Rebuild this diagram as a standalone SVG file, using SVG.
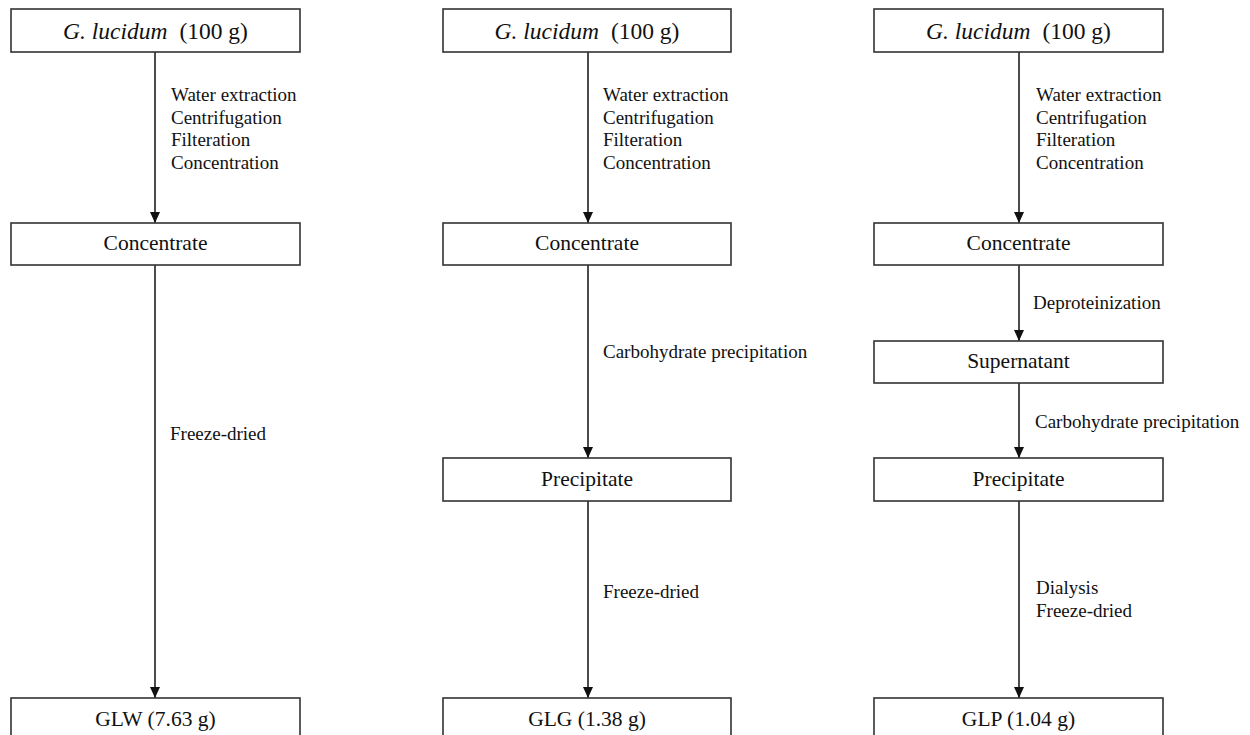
<svg xmlns="http://www.w3.org/2000/svg" width="1250" height="735" viewBox="0 0 1250 735">
<defs>
<marker id="ah" markerWidth="11" markerHeight="10" refX="11" refY="5" orient="auto" markerUnits="userSpaceOnUse" viewBox="0 0 11 10">
<path d="M0,0 L11,5 L0,10 Z" fill="#111"/>
</marker>
</defs>
<style>
.box{fill:#fff;stroke:#333;stroke-width:1.6}
.bt{font-family:"Liberation Serif","Times New Roman",serif;font-size:21.5px;fill:#111;text-anchor:middle}
.tt{font-family:"Liberation Serif","Times New Roman",serif;font-size:23.5px;fill:#111;text-anchor:middle}
.lb{font-family:"Liberation Serif","Times New Roman",serif;font-size:19px;fill:#111}
.ln{stroke:#111;stroke-width:1.5;fill:none;marker-end:url(#ah)}
</style>
<rect width="1250" height="735" fill="#fff"/>
<g id="connectors">
<path class="ln" d="M155,52 V223"/>
<path class="ln" d="M155,265 V698"/>
<path class="ln" d="M588,52 V223"/>
<path class="ln" d="M588,265 V458"/>
<path class="ln" d="M588,501 V698"/>
<path class="ln" d="M1019,52 V223"/>
<path class="ln" d="M1019,265 V341"/>
<path class="ln" d="M1019,383 V458"/>
<path class="ln" d="M1019,501 V698"/>
</g>
<g id="labels">
<text class="lb" x="171" y="101">Water extraction</text>
<text class="lb" x="171" y="123.5">Centrifugation</text>
<text class="lb" x="171" y="146">Filteration</text>
<text class="lb" x="171" y="168.5">Concentration</text>
<text class="lb" x="170" y="440">Freeze-dried</text>
<text class="lb" x="603" y="101">Water extraction</text>
<text class="lb" x="603" y="123.5">Centrifugation</text>
<text class="lb" x="603" y="146">Filteration</text>
<text class="lb" x="603" y="168.5">Concentration</text>
<text class="lb" x="603" y="358">Carbohydrate precipitation</text>
<text class="lb" x="603" y="598">Freeze-dried</text>
<text class="lb" x="1036" y="101">Water extraction</text>
<text class="lb" x="1036" y="123.5">Centrifugation</text>
<text class="lb" x="1036" y="146">Filteration</text>
<text class="lb" x="1036" y="168.5">Concentration</text>
<text class="lb" x="1033" y="309">Deproteinization</text>
<text class="lb" x="1035" y="428">Carbohydrate precipitation</text>
<text class="lb" x="1036" y="594">Dialysis</text>
<text class="lb" x="1036" y="617">Freeze-dried</text>
</g>
<g id="n1a"><rect class="box" x="11" y="9" width="289" height="43"/><text class="tt" x="155.5" y="39"><tspan font-style="italic">G. lucidum</tspan><tspan dx="6"> (100 g)</tspan></text></g>
<g id="n1b"><rect class="box" x="11" y="223" width="289" height="42"/><text class="bt" x="155.5" y="250">Concentrate</text></g>
<g id="n1c"><rect class="box" x="11" y="698" width="289" height="50"/><text class="bt" x="155.5" y="726">GLW (7.63 g)</text></g>
<g id="n2a"><rect class="box" x="443" y="9" width="288" height="43"/><text class="tt" x="587" y="39"><tspan font-style="italic">G. lucidum</tspan><tspan dx="6"> (100 g)</tspan></text></g>
<g id="n2b"><rect class="box" x="443" y="223" width="288" height="42"/><text class="bt" x="587" y="250">Concentrate</text></g>
<g id="n2c"><rect class="box" x="443" y="458" width="288" height="43"/><text class="bt" x="587" y="486">Precipitate</text></g>
<g id="n2d"><rect class="box" x="443" y="698" width="288" height="50"/><text class="bt" x="587" y="726">GLG (1.38 g)</text></g>
<g id="n3a"><rect class="box" x="874" y="9" width="289" height="43"/><text class="tt" x="1018.5" y="39"><tspan font-style="italic">G. lucidum</tspan><tspan dx="6"> (100 g)</tspan></text></g>
<g id="n3b"><rect class="box" x="874" y="223" width="289" height="42"/><text class="bt" x="1018.5" y="250">Concentrate</text></g>
<g id="n3c"><rect class="box" x="874" y="341" width="289" height="42"/><text class="bt" x="1018.5" y="368">Supernatant</text></g>
<g id="n3d"><rect class="box" x="874" y="458" width="289" height="43"/><text class="bt" x="1018.5" y="486">Precipitate</text></g>
<g id="n3e"><rect class="box" x="874" y="698" width="289" height="50"/><text class="bt" x="1018.5" y="726">GLP (1.04 g)</text></g>
</svg>
